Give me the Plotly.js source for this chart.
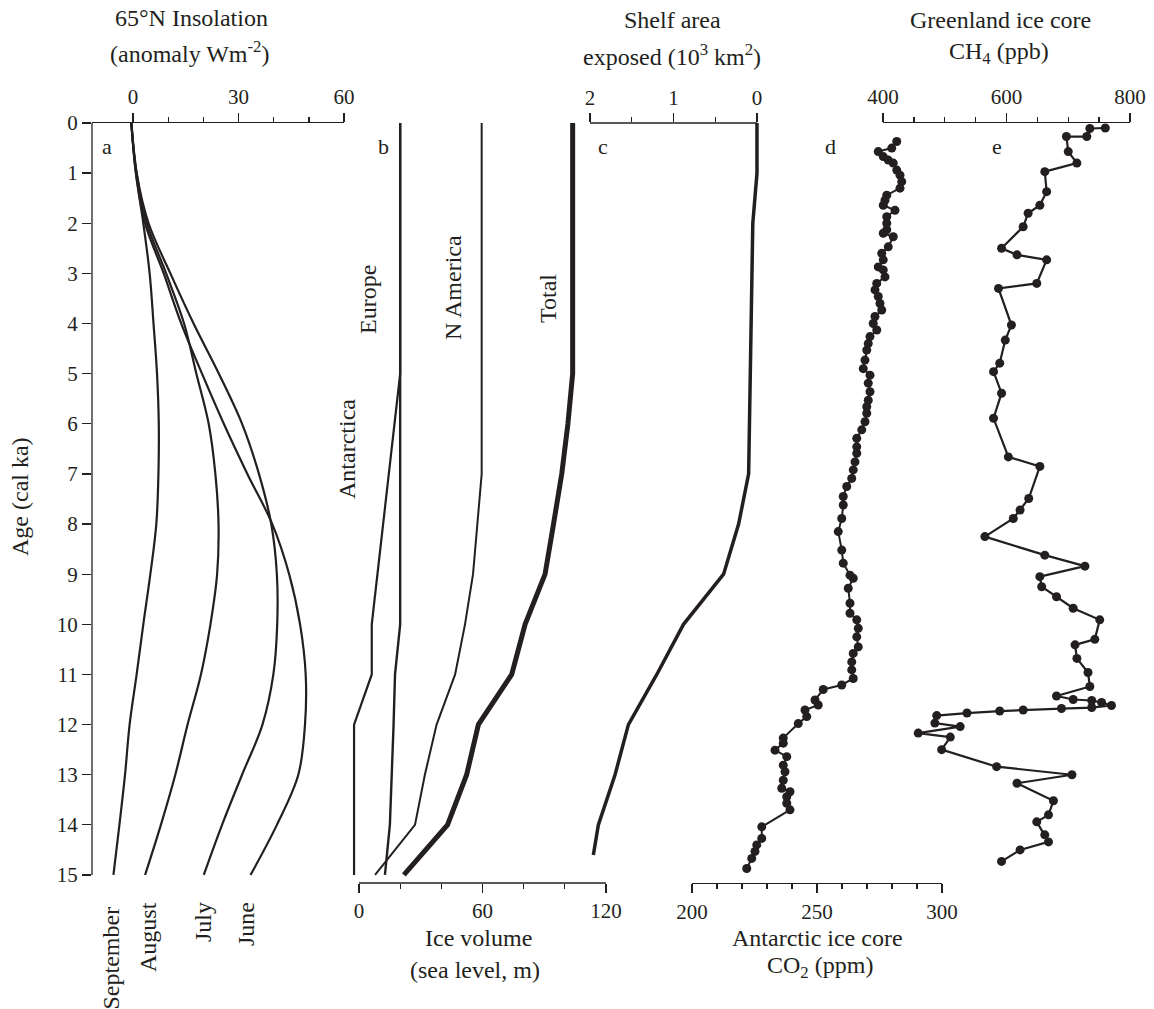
<!DOCTYPE html>
<html>
<head>
<meta charset="utf-8">
<script src="https://cdn.plot.ly/plotly-3.0.1.min.js"></script>
<style>html,body{margin:0;padding:0;background:#fff;}#chart{width:1154px;height:1009px;}</style>
</head>
<body>
<div id="chart"></div>
<script>
// ---- Panel a: 65N insolation anomaly (W m-2) ----
var insAge = [0,1,2,3,4,5,6,7,8,9,10,11,12,13,14,15];
var insJune = [-0.5,0.8,3.4,8.7,13.7,19.6,25.8,32.5,39.6,44.4,47.5,49.1,48.9,47.0,40.9,33.4];
var insJuly = [-0.5,1.0,4.4,10.6,17.2,24.4,31.0,35.8,39.3,40.9,41.0,39.9,36.8,31.0,25.3,20.1];
var insAugust = [-0.5,1.0,3.9,9.4,14.5,18.0,21.5,23.4,24.3,23.9,22.0,19.3,15.5,12.0,7.9,3.4];
var insSeptember = [-0.5,0.8,2.9,4.7,5.8,6.8,7.3,7.2,6.6,4.9,2.9,1.0,-1.0,-2.3,-3.9,-5.6];

// ---- Panel b: ice volume (sea level, m) ----
var antAge = [0,5,10,11,12,15];
var antVal = [20,20,6.2,6.2,-2.4,-2.4];
var eurAge = [0,10,11,12,14,15];
var eurVal = [20,20,17.5,16.8,15,12.6];
var naAge = [0,7,8,9,10,11,12,13,14,15];
var naVal = [59.6,59.6,57.5,55.4,51.5,46.7,37.7,32,27.2,7.8];
var totAge = [0,5,6,7,8,9,10,11,12,13,14,15];
var totVal = [103.8,103.8,101.5,98.5,94.5,90.4,80.7,74.2,58,52.3,43,21.8];

// ---- Panel c: shelf area exposed (10^3 km2) ----
var shelfAge = [0,1,2,7,8,9,10,11,12,13,14,14.6];
var shelfVal = [0,0,0.05,0.1,0.22,0.4,0.88,1.2,1.54,1.7,1.9,1.96];

// ---- Panel d: Antarctic ice core CO2 (ppm) ----
var co2Age = [0.37,0.5,0.57,0.67,0.74,0.8,0.94,1.04,1.17,1.3,1.44,1.54,1.64,1.74,1.87,2.0,2.13,2.2,2.27,2.47,2.6,2.73,2.87,2.93,3.07,3.2,3.33,3.46,3.6,3.73,3.86,4.0,4.13,4.26,4.4,4.53,4.73,4.9,5.03,5.19,5.36,5.53,5.66,5.79,5.96,6.12,6.29,6.46,6.59,6.76,6.92,7.09,7.25,7.45,7.62,7.89,8.15,8.52,8.78,9.02,9.08,9.28,9.58,9.78,9.91,10.08,10.25,10.45,10.58,10.75,10.91,11.08,11.21,11.3,11.51,11.61,11.71,11.84,11.98,12.27,12.37,12.51,12.64,12.81,12.94,13.11,13.27,13.34,13.44,13.57,13.7,14.04,14.27,14.4,14.53,14.67,14.87];
var co2Val = [281.9,279.9,274.5,276.5,278.5,280.5,281.9,283.2,283.9,283.2,277.9,277.2,276.5,281.2,277.9,277.9,277.9,276.5,280.5,278.5,275.9,276.5,274.5,276.5,277.2,273.9,273.2,274.5,275.2,275.9,273.2,272.5,273.9,271.2,270.5,269.9,269.2,268.5,271.2,270.5,271.2,270.5,269.9,269.9,269.2,267.9,265.9,265.9,265.9,265.2,264.5,263.9,261.9,260.5,260.5,259.9,258.5,259.9,260.5,263.2,264.5,262.5,263.2,263.2,265.9,266.5,265.9,266.5,264.5,263.9,263.9,264.5,259.9,252.5,249.2,250.5,245.2,245.9,242.5,236.5,236.5,233.2,237.9,236.5,237.2,236.5,235.9,239.2,237.9,237.9,239.2,227.9,227.9,225.9,225.2,223.9,221.9];

// ---- Panel e: Greenland ice core CH4 (ppb) ----
var ch4Age = [0.1,0.11,0.27,0.27,0.57,0.8,0.97,1.37,1.64,1.8,2.07,2.5,2.63,2.73,3.2,3.3,4.03,4.33,4.79,4.96,5.39,5.89,6.66,6.85,7.49,7.72,7.89,8.25,8.62,8.84,9.05,9.25,9.45,9.68,9.91,10.3,10.41,10.68,10.96,11.24,11.43,11.5,11.52,11.56,11.62,11.66,11.68,11.71,11.73,11.77,11.82,11.97,12.04,12.17,12.25,12.5,12.84,13.0,13.17,13.52,13.8,13.94,14.2,14.34,14.5,14.73];
var ch4Val = [760,735,730,697,700,714,662,665,654,635,627,592,617,665,649,587,608,598,589,579,592,579,603,654,636,622,611,565,662,727,654,657,681,708,751,743,711,714,732,735,681,708,738,754,770,738,689,627,589,536,487,484,525,457,509,495,584,706,617,676,668,649,662,668,622,592];

// ---- tick labels ----
var ageTicks = [0,1,2,3,4,5,6,7,8,9,10,11,12,13,14,15];
var insTicks = [0,30,60];
var iceTicks = [0,60,120];
var shelfTicks = [2,1,0];
var co2Ticks = [200,250,300];
var ch4Ticks = [400,600,800];

var INK = '#231f20';
var FONT = 'Liberation Serif';

// pixel helpers (layout geometry)
var W = 1154, H = 1009, ML = 92, MR = 24, MT = 123, MB = 126;
var PW = W - ML - MR, PH = H - MT - MB;
function px(x){ return (x - ML) / PW; }
function py(y){ return (H - MB - y) / PH; }

var traces = [];
function line(x, y, xa, w, shape){
  traces.push({type:'scatter', mode:'lines', x:x, y:y, xaxis:xa, yaxis:'y',
    line:{color:INK, width:w, shape:shape||'linear', smoothing:1}, hoverinfo:'skip', showlegend:false});
}
line(insJune, insAge, 'x', 2.2, 'spline');
line(insJuly, insAge, 'x', 2.2, 'spline');
line(insAugust, insAge, 'x', 2.2, 'spline');
line(insSeptember, insAge, 'x', 2.2, 'spline');
line(antVal, antAge, 'x2', 2.2);
line(eurVal, eurAge, 'x2', 2.4);
line(naVal, naAge, 'x2', 2);
line(totVal, totAge, 'x2', 5);
line(shelfVal, shelfAge, 'x3', 3.5);
traces.push({type:'scatter', mode:'lines+markers', x:co2Val, y:co2Age, xaxis:'x4', yaxis:'y',
  line:{color:INK, width:2}, marker:{color:INK, size:9}, hoverinfo:'skip', showlegend:false});
traces.push({type:'scatter', mode:'lines+markers', x:ch4Val, y:ch4Age, xaxis:'x5', yaxis:'y',
  line:{color:INK, width:2.2}, marker:{color:INK, size:9}, hoverinfo:'skip', showlegend:false});

var tickFont = {family:FONT, size:21, color:INK};
function xax(domainPx, range, side, tickvals, minorvals, showline){
  return {
    domain:[px(domainPx[0]), px(domainPx[1])], range:range, autorange:false,
    side:side, anchor:'y', showgrid:false, zeroline:false,
    showline:showline, linecolor:INK, linewidth:1.3,
    tickmode:'array', tickvals:tickvals, ticktext:tickvals.map(String),
    ticks:'outside', ticklen:9, tickwidth:1.3, tickcolor:INK,
    minor:{tickmode:'array', tickvals:minorvals, ticks:'outside', ticklen:5, tickwidth:1.3, tickcolor:INK, showgrid:false},
    tickfont:tickFont, fixedrange:true
  };
}

var layout = {
  width:W, height:H,
  margin:{l:ML, r:MR, t:MT, b:MB},
  paper_bgcolor:'#fff', plot_bgcolor:'rgba(0,0,0,0)',
  showlegend:false,
  font:{family:FONT, color:INK},
  xaxis: xax([92,344], [-11.7,60], 'top', insTicks, [10,20,40,50], true),
  xaxis2: xax([347,606], [-5.83,120], 'bottom', iceTicks, [20,40,80,100], false),
  xaxis3: xax([590,770], [2,-0.156], 'top', shelfTicks, [1.5,0.5], false),
  xaxis4: xax([692,942], [200,300], 'bottom', co2Ticks, [210,220,230,240,260,270,280,290], true),
  xaxis5: xax([883,1130], [400,800], 'top', ch4Ticks, [450,500,550,650,700,750], true),
  yaxis: {
    domain:[0,1], range:[15.16,0], autorange:false, anchor:'x', side:'left',
    showgrid:false, zeroline:false, showline:false,
    tickmode:'array', tickvals:ageTicks, ticktext:ageTicks.map(String),
    ticks:'outside', ticklen:9, tickwidth:1.3, tickcolor:INK, tickfont:tickFont, fixedrange:true
  },
  shapes:[
    {type:'line', xref:'paper', x0:0, x1:0, yref:'y', y0:0, y1:15, line:{color:INK, width:1.3}},
    {type:'line', xref:'x2', x0:0, x1:120, yref:'paper', y0:0, y1:0, line:{color:INK, width:1.3}},
    {type:'line', xref:'x3', x0:2, x1:0, yref:'paper', y0:1, y1:1, line:{color:INK, width:1.3}}
  ],
  annotations:[]
};

function ann(text, x, y, opts){
  var a = {text:text, xref:'paper', yref:'paper', x:px(x), y:py(y), showarrow:false,
    xanchor:'center', yanchor:'middle', font:{family:FONT, size:24, color:INK}};
  for (var k in (opts||{})) a[k] = opts[k];
  layout.annotations.push(a);
}
ann('65°N Insolation', 191, 18);
ann('(anomaly Wm<sup>-2</sup>)', 190, 52);
ann('Shelf area', 672, 20);
ann('exposed (10<sup>3</sup> km<sup>2</sup>)', 672, 55);
ann('Greenland ice core', 1000, 20);
ann('CH<sub>4</sub> (ppb)', 999, 53);
ann('Ice volume', 478, 938);
ann('(sea level, m)', 475, 970);
ann('Antarctic ice core', 817, 938);
ann('CO<sub>2</sub> (ppm)', 820, 967);
ann('Age (cal ka)', 20, 497, {textangle:-90});
ann('September', 110, 905, {textangle:-90, yanchor:'top'});
ann('August', 148, 900, {textangle:-90, yanchor:'top'});
ann('July', 203, 900, {textangle:-90, yanchor:'top'});
ann('June', 246, 900, {textangle:-90, yanchor:'top'});
ann('Europe', 368, 300, {textangle:-90});
ann('N America', 453, 288, {textangle:-90});
ann('Total', 548, 299, {textangle:-90});
ann('Antarctica', 347, 449, {textangle:-90});
ann('a', 107, 146, {font:{family:FONT, size:22, color:INK}});
ann('b', 383, 146, {font:{family:FONT, size:22, color:INK}});
ann('c', 603, 146, {font:{family:FONT, size:22, color:INK}});
ann('d', 830, 146, {font:{family:FONT, size:22, color:INK}});
ann('e', 997, 146, {font:{family:FONT, size:22, color:INK}});

Plotly.newPlot('chart', traces, layout, {staticPlot:true, displayModeBar:false});
</script>
</body>
</html>
